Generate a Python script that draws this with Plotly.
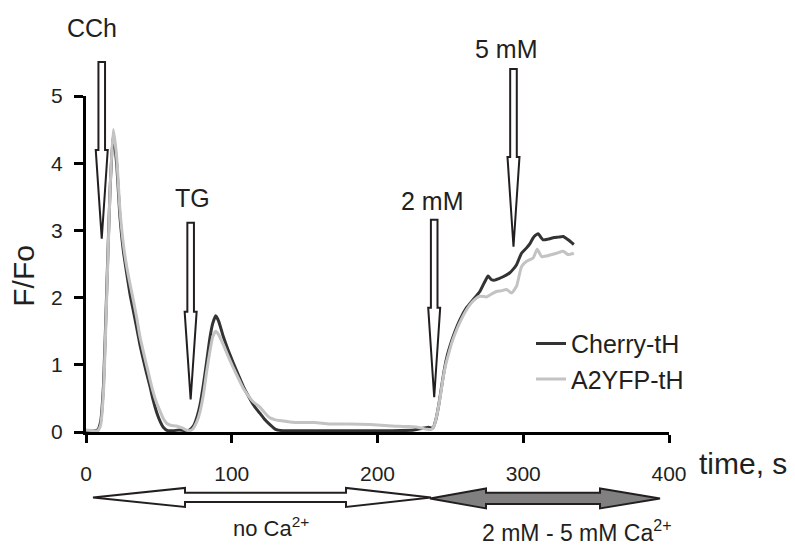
import plotly.graph_objects as go

# ---------------- data ----------------
time_cherry = [0, 5, 8, 10, 12, 14.2, 16.5, 18.7, 21, 23.3, 25.6, 28, 30.2, 32.5, 34.8, 37, 39.3,
               41.5, 43.9, 46, 48.5, 51, 53, 56, 60, 64, 68, 71, 74, 76.5, 78.2, 80.5, 82.8, 85,
               87, 89, 91, 94.2, 97.5, 101, 104.5, 107.9, 111, 114.7, 117, 119.3, 122.5, 126.2,
               130, 135, 150, 170, 190, 210, 225, 232, 235, 238, 240, 242, 244, 246, 248, 250,
               252, 256.5, 261.1, 265.6, 270.2, 273.7, 275.9, 278, 280.5, 283, 286.2, 290.8,
               293, 295.4, 298.8, 302.3, 304.5, 306.8, 308.5, 310.2, 312, 313.6, 317, 320.5,
               324, 327.4, 330.8, 334.7]
f_cherry = [0.02, 0.02, 0.03, 0.15, 0.7, 2.1, 3.6, 4.45, 4.0, 3.2, 2.7, 2.35, 2.05, 1.8, 1.55,
            1.3, 1.08, 0.88, 0.68, 0.48, 0.29, 0.15, 0.07, 0.02, 0.02, 0.03, 0.02, 0.03, 0.1,
            0.25, 0.4, 0.7, 1.05, 1.4, 1.62, 1.73, 1.65, 1.42, 1.22, 1.03, 0.85, 0.68, 0.55,
            0.41, 0.34, 0.28, 0.19, 0.11, 0.04, 0.02, 0.02, 0.02, 0.02, 0.02, 0.03, 0.06, 0.07,
            0.06, 0.18, 0.4, 0.68, 0.95, 1.15, 1.3, 1.43, 1.67, 1.85, 1.97, 2.09, 2.24, 2.32,
            2.27, 2.26, 2.28, 2.31, 2.37, 2.42, 2.49, 2.66, 2.74, 2.8, 2.89, 2.93, 2.95, 2.9,
            2.86, 2.87, 2.89, 2.9, 2.91, 2.86, 2.79]

time_a2yfp = [0, 5, 8, 10, 12, 14.2, 16.5, 18.7, 21, 23.3, 25.6, 28, 30.2, 32.4, 34.8, 37, 39.3,
              41.5, 43.9, 46, 48.5, 51, 53, 55.3, 58, 62, 66, 70, 73, 76, 78.2, 80.5, 82.8, 85,
              87, 89, 91, 94.2, 97.5, 101, 104.5, 107.9, 111, 114.7, 117, 119.3, 122.5, 126.2,
              130, 133, 140, 147, 157, 167, 180, 195, 210, 222, 230, 234, 237, 239, 241, 243,
              245, 247, 249, 251, 253, 256.5, 261.1, 265.6, 270.2, 274.8, 278, 281.7, 285,
              288.5, 292, 295.4, 298.8, 302.3, 306.8, 309.6, 312.6, 316, 322.8, 327.4, 330.8,
              334.7]
f_a2yfp = [0.03, 0.02, 0.02, 0.1, 0.6, 2.0, 3.6, 4.5, 4.1, 3.3, 2.8, 2.45, 2.2, 1.97, 1.7,
           1.42, 1.2, 1.0, 0.78, 0.6, 0.43, 0.3, 0.2, 0.13, 0.1, 0.09, 0.06, 0.02, 0.04, 0.15,
           0.3, 0.55, 0.9, 1.2, 1.42, 1.5, 1.45, 1.3, 1.13, 0.96, 0.8, 0.65, 0.55, 0.45, 0.41,
           0.37, 0.29, 0.21, 0.18, 0.17, 0.15, 0.14, 0.14, 0.12, 0.12, 0.11, 0.09, 0.08, 0.06,
           0.04, 0.04, 0.1, 0.28, 0.52, 0.8, 1.02, 1.18, 1.33, 1.45, 1.63, 1.82, 1.95, 2.02,
           2.01, 2.05, 2.09, 2.1, 2.12, 2.07, 2.17, 2.46, 2.54, 2.59, 2.72, 2.61, 2.62, 2.66,
           2.69, 2.64, 2.66]

x_ticks = [0, 100, 200, 300, 400]
y_ticks = [0, 1, 2, 3, 4, 5]

events = ["CCh", "TG", "2 mM", "5 mM"]
event_times = [10.8, 71.8, 238.9, 293.3]
phases = ["no Ca<sup>2+</sup>", "2 mM - 5 mM Ca<sup>2+</sup>"]

# ---------------- layout geometry ----------------
W, H = 795, 551
L, R, T, B = 86, 126, 96, 118.5
PW, PH = W - L - R, H - T - B
XMAX, YMAX = 400, 5
INK = "#231f20"
SANS = "Liberation Sans, Arial, sans-serif"


def xp(px):
    return (px - L) / PW


def yp(py):
    return (H - B - py) / PH


def data_px(x):
    return L + x / XMAX * PW


fig = go.Figure()
fig.add_trace(go.Scatter(x=time_cherry, y=f_cherry, mode="lines", name="Cherry-tH",
                         line=dict(color="#333333", width=3, shape="spline", smoothing=0.5)))
fig.add_trace(go.Scatter(x=time_a2yfp, y=f_a2yfp, mode="lines", name="A2YFP-tH",
                         line=dict(color="#c3c3c3", width=3, shape="spline", smoothing=0.5)))

shapes = []
annotations = []

# event arrows (pixel geometry for tip, head base, shaft top, label)
tip_py = [239, 400, 397.7, 247]
base_py = [150, 312, 308, 157]
top_py = [62, 223, 220, 69]
label_pos = [(92, 28), (192, 198), (432, 201), (506, 49)]
SW, HW = 3.3, 6.0
for name, t, tp, bp, sp, (lx, ly) in zip(events, event_times, tip_py, base_py, top_py, label_pos):
    cx = data_px(t)
    pts = [(cx - SW, sp), (cx + SW, sp), (cx + SW, bp), (cx + HW, bp), (cx, tp),
           (cx - HW, bp), (cx - SW, bp)]
    path = "M " + " L ".join(f"{xp(a):.5f},{yp(b):.5f}" for a, b in pts) + " Z"
    shapes.append(dict(type="path", xref="paper", yref="paper", path=path,
                       fillcolor="white", line=dict(color=INK, width=2)))
    annotations.append(dict(text=name, x=xp(lx), y=yp(ly), xref="paper", yref="paper",
                            showarrow=False, xanchor="center", yanchor="middle",
                            font=dict(family=SANS, size=25, color=INK)))


def double_arrow(tl, bl, br, tr, cy, hh, sh):
    pts = [(tl, cy), (bl, cy - hh), (bl, cy - sh), (br, cy - sh), (br, cy - hh), (tr, cy),
           (br, cy + hh), (br, cy + sh), (bl, cy + sh), (bl, cy + hh)]
    return "M " + " L ".join(f"{xp(a):.5f},{yp(b):.5f}" for a, b in pts) + " Z"


shapes.append(dict(type="path", xref="paper", yref="paper",
                   path=double_arrow(93, 185, 346, 431, 498, 9.5, 4.6),
                   fillcolor="white", line=dict(color=INK, width=2)))
shapes.append(dict(type="path", xref="paper", yref="paper",
                   path=double_arrow(430, 486, 600, 660, 499, 10, 5.6),
                   fillcolor="#808080", line=dict(color=INK, width=2)))

annotations.append(dict(text=phases[0], x=xp(271), y=yp(528), xref="paper", yref="paper",
                        showarrow=False, xanchor="center", yanchor="middle",
                        font=dict(family=SANS, size=22, color=INK)))
annotations.append(dict(text=phases[1], x=xp(577), y=yp(532), xref="paper", yref="paper",
                        showarrow=False, xanchor="center", yanchor="middle",
                        font=dict(family=SANS, size=23, color=INK)))

annotations.append(dict(text="time, s", x=xp(697), y=yp(464), xref="paper", yref="paper",
                        showarrow=False, xanchor="left", yanchor="middle",
                        font=dict(family=SANS, size=30, color=INK)))
annotations.append(dict(text="F/Fo", x=xp(24), y=yp(276), xref="paper", yref="paper",
                        showarrow=False, xanchor="center", yanchor="middle", textangle=-90,
                        font=dict(family=SANS, size=30, color=INK)))

fig.update_layout(
    width=W, height=H,
    margin=dict(l=L, r=R, t=T, b=B, pad=0),
    plot_bgcolor="white", paper_bgcolor="white",
    shapes=shapes, annotations=annotations,
    showlegend=True,
    legend=dict(x=xp(531), y=yp(321), xanchor="left", yanchor="top",
                bgcolor="rgba(0,0,0,0)", font=dict(family=SANS, size=25, color=INK),
                tracegroupgap=0, itemwidth=30),
    xaxis=dict(range=[0, XMAX], tickvals=x_ticks, showgrid=False, zeroline=False,
               showline=True, linecolor="black", linewidth=3, ticks="outside",
               ticklen=8, tickwidth=3, tickcolor="black", ticklabelstandoff=13,
               tickfont=dict(family=SANS, size=21, color=INK), fixedrange=True),
    yaxis=dict(range=[0, YMAX], tickvals=y_ticks, showgrid=False, zeroline=False,
               showline=True, linecolor="black", linewidth=3, ticks="outside",
               ticklen=9, tickwidth=3, tickcolor="black", ticklabelstandoff=7,
               tickfont=dict(family=SANS, size=21, color=INK), fixedrange=True),
)

fig.write_html("out.html")
